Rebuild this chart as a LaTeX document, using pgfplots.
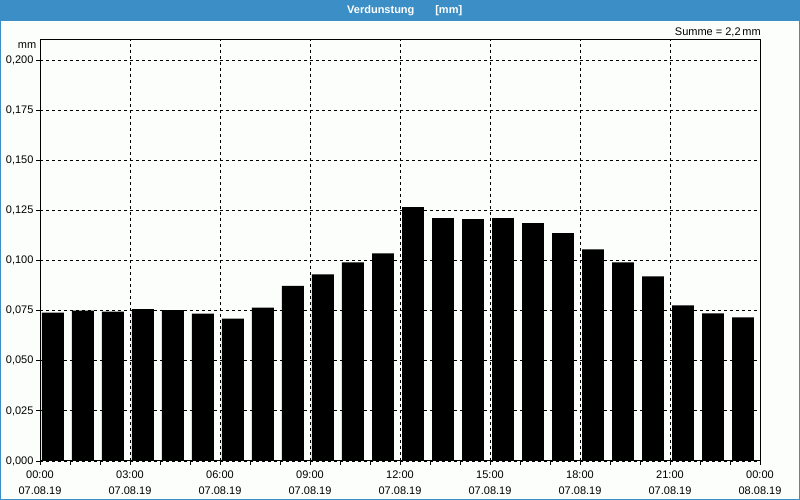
\documentclass[border=0pt]{standalone}
\usepackage{pgfplots}
\pgfplotsset{compat=1.18}
\usepackage{fontspec}
\setmainfont{Liberation Sans}
\definecolor{titleblue}{HTML}{3C8FC6}
\definecolor{bg}{HTML}{FCFEFC}
\begin{document}
\begin{tikzpicture}[x=1pt,y=1pt,font=\fontsize{11}{13}\selectfont]
\useasboundingbox (0,0) rectangle (800,500);
\fill[bg] (0,0) rectangle (800,500);
\fill[titleblue] (0,479.3) rectangle (800,500);
\draw[titleblue, line width=1.2pt] (0.6,0.6) rectangle (799.4,499.4);
\node[white, font=\fontsize{11}{13}\selectfont\bfseries, inner sep=0pt, anchor=west] at (347,489.8) {Verdunstung\hspace{1.9em}[mm]};
\begin{axis}[
  at={(40pt,39pt)}, anchor=south west,
  scale only axis, width=720pt, height=421pt,
  xmin=0, xmax=24, ymin=0, ymax=0.20998,
  axis line style={black, line width=1pt},
  tick pos=left, tick align=outside,
  major tick length=4pt, minor tick length=4pt,
  tick style={black, line width=0.8pt},
  xtick={0,3,...,24},
  minor xtick={1,2,4,5,7,8,10,11,13,14,16,17,19,20,22,23},
  xticklabels={{00:00\\07.08.19},{03:00\\07.08.19},{06:00\\07.08.19},{09:00\\07.08.19},{12:00\\07.08.19},{15:00\\07.08.19},{18:00\\07.08.19},{21:00\\07.08.19},{00:00\\08.08.19}},
  xticklabel style={align=center, font=\fontsize{11}{15.5}\selectfont, yshift=-2.5pt},
  ytick={0,0.025,0.05,0.075,0.1,0.125,0.15,0.175,0.2},
  yticklabels={{0,000},{0,025},{0,050},{0,075},{0,100},{0,125},{0,150},{0,175},{0,200}},
  yticklabel style={font=\fontsize{11}{13}\selectfont, xshift=1pt},
  grid=major,
  major grid style={black, dashed, line width=0.8pt},
]
\addplot[ybar, bar width=0.733, bar shift=0pt, fill=black, draw=none] table {
x y
0.433 0.0740
1.433 0.0750
2.433 0.0745
3.433 0.0758
4.433 0.0753
5.433 0.0735
6.433 0.0710
7.433 0.0765
8.433 0.0873
9.433 0.0931
10.433 0.0991
11.433 0.1036
12.433 0.1266
13.433 0.1211
14.433 0.1206
15.433 0.1211
16.433 0.1186
17.433 0.1136
18.433 0.1056
19.433 0.0991
20.433 0.0921
21.433 0.0776
22.433 0.0736
23.433 0.0716
};
\end{axis}
\node[anchor=east, inner sep=0pt] at (761,467.7) {Summe = 2,2\,mm};
\node[anchor=east, inner sep=0pt] at (36.5,454) {mm};
\end{tikzpicture}
\end{document}
